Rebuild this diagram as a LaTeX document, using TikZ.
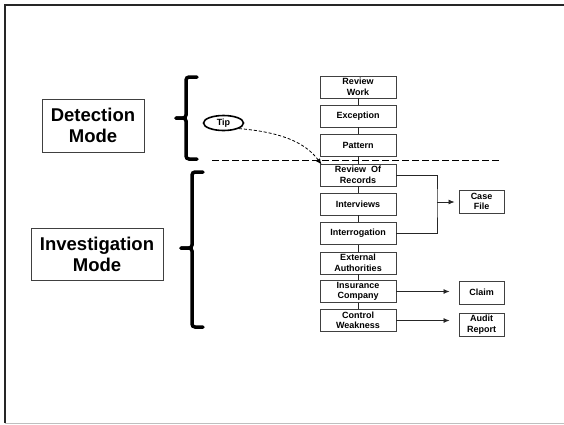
\documentclass[tikz,border=0pt]{standalone}
\usepackage{fontspec}
\setmainfont{Liberation Sans}
\usetikzlibrary{arrows.meta,shapes.geometric}

\begin{document}
\begin{tikzpicture}[x=1pt,y=-1pt,
    stage/.style={draw=black!75,line width=0.9pt,minimum width=76pt,minimum height=22pt,inner sep=0pt,align=center,font=\bfseries\fontsize{9}{10.5}\selectfont},
    outbox/.style={stage,minimum width=45pt,minimum height=23pt},
    modebox/.style={draw=black!75,line width=0.8pt,inner sep=0pt,align=center,font=\bfseries\fontsize{18.5}{21}\selectfont},
    brace/.style={line width=3.5pt,rounded corners=3pt,line cap=round},
    link/.style={line width=0.8pt,black!85},
    >={Latex[length=6pt,width=5pt]}]

    % Slide frame
    \useasboundingbox (0,0) rectangle (564,424);
    \draw[line width=2pt,black!85] (5,423) -- (5,5) -- (564,5);
    \draw[black!25] (5,423) -- (564,423);

    % Modes
    \node[modebox,minimum width=102pt,minimum height=53pt] at (93,125.5) (Dm) {Detection\\Mode};
    \node[modebox,minimum width=132pt,minimum height=52pt] at (97,254) (Im) {Investigation\\Mode};

    % Braces
    \draw[brace] (197,77) -- (186,77) -- (186,118) -- (176,118);
    \draw[brace] (197,159) -- (186,159) -- (186,118) -- (176,118);
    \draw[brace] (203,172) -- (192,172) -- (192,248) -- (181,248);
    \draw[brace] (203,327) -- (192,327) -- (192,248) -- (181,248);

    % Stages
    \node[stage] at (358,87) (Rw) {Review\\Work};
    \node[stage] at (358,116) (Ex) {Exception};
    \node[stage] at (358,145) (Pa) {Pattern};
    \node[stage] at (358,175) (Rr) {Review~ Of\\Records};
    \node[stage] at (358,204) (Iv) {Interviews};
    \node[stage] at (358,233.5) (Ig) {Interrogation};
    \node[stage] at (358,263) (Ea) {External\\Authorities};
    \node[stage] at (358,291.5) (Ic) {Insurance\\Company};
    \node[stage] at (358,320.5) (Cw) {Control\\Weakness};

    \foreach \a/\b in {Rw/Ex,Ex/Pa,Pa/Rr,Rr/Iv,Iv/Ig,Ig/Ea,Ea/Ic,Ic/Cw}
        \draw[link] (\a) -- (\b);

    % Outcomes
    \node[outbox] at (481.5,201.5) (Cf) {Case\\File};
    \node[outbox] at (481.5,292.5) (Cl) {Claim};
    \node[outbox] at (481.5,324.5) (Ar) {Audit\\Report};

    \coordinate (Jn) at (437,202);
    \draw[link] (Rr.east) -| (Jn) |- (Ig.east);
    \draw[link,->,shorten >=4pt] (Jn) -- (Jn -| Cf.west);
    \draw[link,->,shorten >=9pt] (Ic.east) -- (Ic.east -| Cl.west);
    \draw[link,->,shorten >=9pt] (Cw.east) -- (Cw.east -| Ar.west);

    % Mode boundary
    \coordinate (DashL) at (212,160);
    \coordinate (DashR) at (500,160);
    \draw[line width=1pt,dash pattern=on 6.5pt off 3.5pt] (DashL) -- (DashR);

    % Tip
    \node[ellipse,draw,line width=1.6pt,minimum width=40pt,minimum height=15pt,inner sep=0pt,font=\bfseries\fontsize{9}{10}\selectfont] at (223.5,123) (Tip) {Tip};
    \draw[line width=0.8pt,dash pattern=on 3pt off 2pt,->] (Tip.-20) .. controls (280,132) and (305,142) .. ([xshift=2pt,yshift=-1pt]Rr.north west);

\end{tikzpicture}
\end{document}
